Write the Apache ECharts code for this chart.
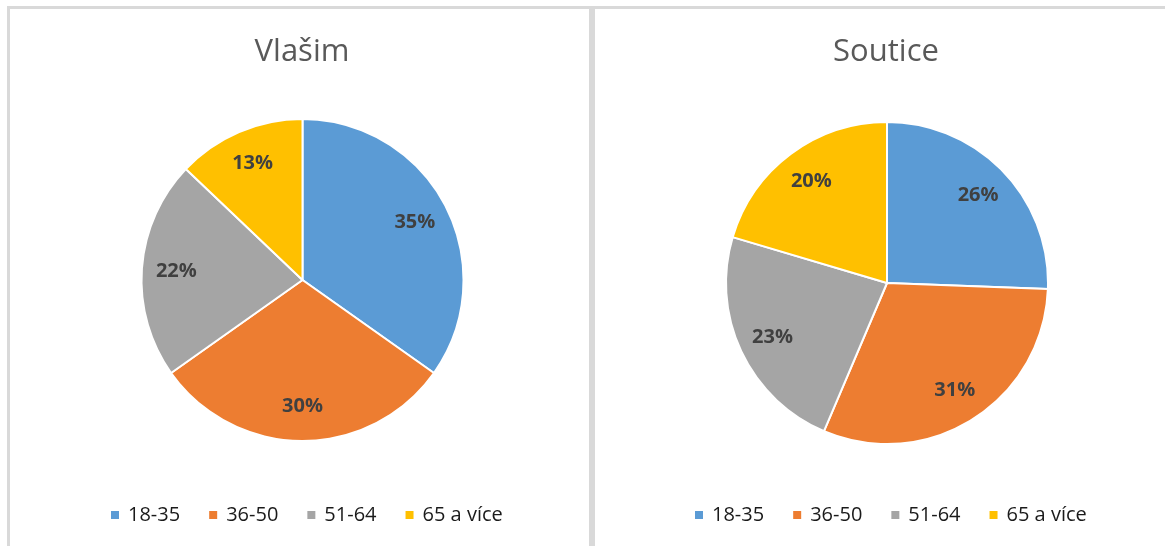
<!DOCTYPE html>
<html>
<head>
	<meta charset="utf-8" />
	<script src="https://cdn.jsdelivr.net/npm/echarts@6/dist/echarts.min.js"></script>
	<style>
		body { margin: 0; background: #ffffff; overflow: hidden; }
		.panel { position: absolute; top: 6px; width: 579px; height: 600px; border: 3px solid #d9d9d9; }
		#p1 { left: 7px; }
		#p2 { left: 592px; }
		#chart { position: absolute; left: 0; top: 0; width: 1165px; height: 546px; }
	</style>
</head>
<body>
<div class="panel" id="p1"></div>
<div class="panel" id="p2"></div>
<div id="chart"></div>
<script type="text/javascript">
	// vekove skupiny
	var categories = ['18-35', '36-50', '51-64', '65 a více'];
	var towns = ['Vlašim', 'Soutice'];
	// podily v procentech
	var vlasimValues = [34.8, 30.4, 21.9, 12.9];
	var souticeValues = [25.6, 30.8, 23.2, 20.4];
	var colors = ['#5B9BD5', '#ED7D31', '#A5A5A5', '#FFC000'];

	var font = 'Open Sans';
	var centers = [[302.5, 280], [887, 283]];
	var R = 161;

	function toData(vals) {
		var out = [];
		for (var i = 0; i < categories.length; i++) {
			out.push({ name: categories[i], value: vals[i] });
		}
		return out;
	}

	var allValues = [vlasimValues, souticeValues];
	var series = [];
	for (var k = 0; k < 2; k++) {
		// the visible pie
		series.push({
			type: 'pie',
			center: centers[k],
			radius: R,
			startAngle: 90,
			silent: true,
			data: toData(allValues[k]),
			label: { show: false },
			labelLine: { show: false },
			itemStyle: { borderColor: '#ffffff', borderWidth: 2 }
		});
		// transparent ring, only to put the labels further out
		series.push({
			type: 'pie',
			center: centers[k],
			radius: [86, R],
			startAngle: 90,
			silent: true,
			percentPrecision: 0,
			data: toData(allValues[k]),
			itemStyle: { color: 'rgba(0,0,0,0)' },
			label: {
				show: true,
				position: 'inside',
				formatter: '{d}%',
				fontFamily: font,
				fontWeight: 'bold',
				fontSize: 20,
				color: '#404040'
			},
			labelLine: { show: false }
		});
	}

	var legendBase = {
		top: 505,
		padding: 0,
		icon: 'rect',
		itemWidth: 10,
		itemHeight: 10,
		itemGap: 27,
		selectedMode: false,
		data: categories,
		textStyle: { fontFamily: font, fontSize: 20, color: '#1a1a1a', padding: [0, 0, 0, 3] }
	};

	var myChart = echarts.init(document.getElementById('chart'));
	var option = {
		color: colors,
		animation: false,
		title: [
			{ text: towns[0], left: 297, top: 32, textAlign: 'center',
			  textStyle: { fontFamily: font, fontWeight: 'normal', fontSize: 31, color: '#595959' } },
			{ text: towns[1], left: 881, top: 32, textAlign: 'center',
			  textStyle: { fontFamily: font, fontWeight: 'normal', fontSize: 31, color: '#595959' } }
		],
		legend: [
			Object.assign({}, legendBase, { left: 109 }),
			Object.assign({}, legendBase, { left: 693 })
		],
		series: series
	};
	myChart.setOption(option);
</script>
</body>
</html>
